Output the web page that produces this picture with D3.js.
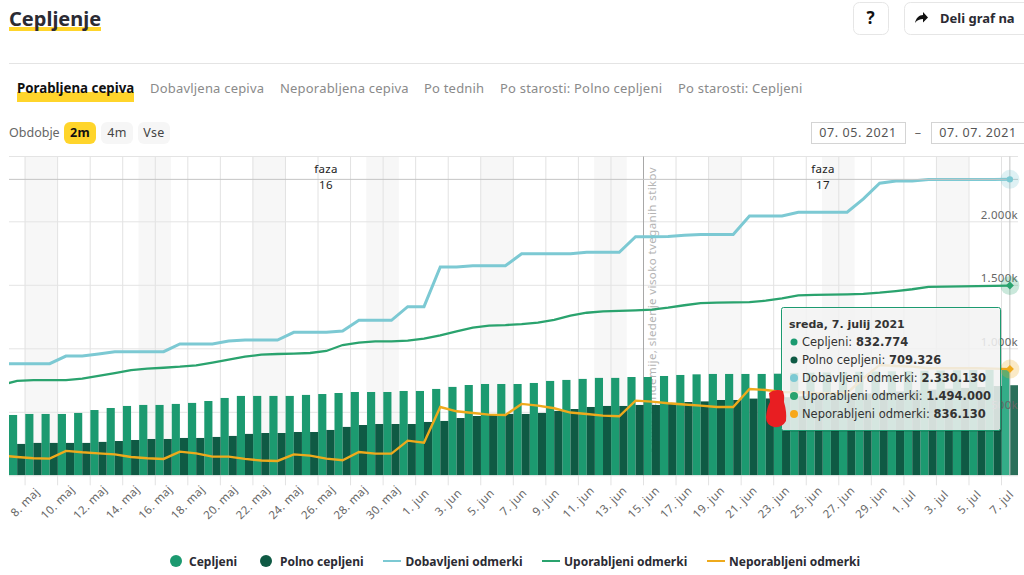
<!DOCTYPE html>
<html>
<head>
<meta charset="utf-8">
<style>
  html, body { margin: 0; padding: 0; background: #fff; overflow: hidden; }
  text { font-family: "Noto Sans", sans-serif; }
  .tip text { font-family: "DejaVu Sans", sans-serif; }
</style>
<script src="https://cdn.jsdelivr.net/npm/d3@7"></script>
</head>
<body>
<div id="chart"></div>
<script>
// the first entry (6. maj) lies left of the plot, only the lines come in from it
var days = ["6. maj", "7. maj", "8. maj", "9. maj", "10. maj", "11. maj", "12. maj", "13. maj", "14. maj", "15. maj",
  "16. maj", "17. maj", "18. maj", "19. maj", "20. maj", "21. maj", "22. maj", "23. maj", "24. maj", "25. maj",
  "26. maj", "27. maj", "28. maj", "29. maj", "30. maj", "31. maj", "1. jun", "2. jun", "3. jun", "4. jun",
  "5. jun", "6. jun", "7. jun", "8. jun", "9. jun", "10. jun", "11. jun", "12. jun", "13. jun", "14. jun",
  "15. jun", "16. jun", "17. jun", "18. jun", "19. jun", "20. jun", "21. jun", "22. jun", "23. jun", "24. jun",
  "25. jun", "26. jun", "27. jun", "28. jun", "29. jun", "30. jun", "1. jul", "2. jul", "3. jul", "4. jul",
  "5. jul", "6. jul", "7. jul"];

var tickDays = ["8. maj", "10. maj", "12. maj", "14. maj", "16. maj", "18. maj", "20. maj", "22. maj", "24. maj",
  "26. maj", "28. maj", "30. maj", "1. jun", "3. jun", "5. jun", "7. jun", "9. jun", "11. jun", "13. jun", "15. jun",
  "17. jun", "19. jun", "21. jun", "23. jun", "25. jun", "27. jun", "29. jun", "1. jul", "3. jul", "5. jul", "7. jul"];

var weekendDays = ["8. maj", "15. maj", "22. maj", "29. maj", "5. jun", "12. jun", "19. jun", "26. jun", "3. jul"];

// thousands
var cepljeni = [0, 475, 483, 483, 483, 491, 514, 530, 546, 554, 554, 562, 570, 585, 609, 625, 625, 625, 625, 633, 640,
  648, 656, 656, 656, 664, 664, 680, 696, 711, 719, 719, 719, 727, 743, 751, 759, 767, 767, 774, 774, 782, 790,
  795, 798, 798, 798, 798, 800, 806, 808, 810, 812, 815, 817, 819, 821, 823, 825, 827, 829, 831, 832.774];
var polno = [0, 247, 255, 255, 255, 255, 263, 270, 278, 286, 286, 294, 294, 302, 310, 326, 333, 333, 341, 341, 357,
  381, 396, 404, 404, 404, 420, 428, 451, 467, 475, 483, 483, 491, 507, 522, 538, 546, 546, 554, 554, 570, 577,
  582, 593, 593, 604, 605, 615, 622, 630, 636, 640, 645, 652, 660, 668, 675, 682, 688, 695, 703, 709.326];
var dobavljeni = [879, 879, 879, 879, 939, 939, 955, 973, 973, 973, 973, 1034, 1034, 1034, 1058, 1065, 1065, 1065, 1126,
  1126, 1126, 1136, 1220, 1220, 1220, 1328, 1328, 1640, 1640, 1650, 1650, 1650, 1745, 1745, 1745, 1745, 1756, 1756, 1756,
  1879, 1879, 1881, 1890, 1897, 1897, 1897, 2042, 2042, 2042, 2071, 2071, 2071, 2071, 2176, 2300, 2318, 2318, 2330, 2330,
  2330, 2330, 2330, 2330.13];
var uporabljeni = [710, 743, 750, 750, 750, 761, 782, 805, 829, 840, 847, 855, 866, 887, 910, 934, 950, 955, 958, 963, 979,
  1026, 1044, 1055, 1055, 1060, 1076, 1102, 1134, 1162, 1178, 1183, 1191, 1202, 1223, 1257, 1280, 1291, 1294, 1299, 1304,
  1320, 1339, 1356, 1359, 1362, 1364, 1375, 1393, 1417, 1420, 1422, 1424, 1428, 1438, 1451, 1465, 1483, 1486, 1488, 1490,
  1492, 1494];
var neporabljeni = [155, 144, 134, 131, 192, 181, 173, 165, 144, 134, 129, 186, 173, 147, 147, 129, 116, 113, 165, 155, 131,
  118, 184, 171, 171, 273, 257, 538, 504, 491, 478, 475, 562, 549, 528, 494, 483, 470, 465, 588, 580, 567, 557, 549, 538,
  538, 680, 672, 656, 654, 648, 646, 648, 764, 869, 861, 856, 843, 843, 843, 843, 840, 836.13];

var yTicks = [0, 500, 1000, 1500, 2000];
var yTickLabels = ["", "500k", "1.000k", "1.500k", "2.000k"];

var tabs = ["Porabljena cepiva", "Dobavljena cepiva", "Neporabljena cepiva", "Po tednih", "Po starosti: Polno cepljeni", "Po starosti: Cepljeni"];
var tabX = [17, 150, 280, 424, 500, 678];
var periods = ["2m", "4m", "Vse"];
var tipRows = ["Cepljeni: ", "Polno cepljeni: ", "Dobavljeni odmerki: ", "Uporabljeni odmerki: ", "Neporabljeni odmerki: "];
var tipValues = ["832.774", "709.326", "2.330.130", "1.494.000", "836.130"];

var colCepljeni = "#1c9a70", colPolno = "#0f5a44", colDobavljeni = "#7cc9d3", colUporabljeni = "#2aa36e", colNeporabljeni = "#eeaa1c";
var yellow = "#ffd52b", dark = "#2b2b33";

var svg = d3.select("#chart").append("svg").attr("width", 1024).attr("height", 575);

// header
svg.append("rect").attr("x", 9).attr("y", 27).attr("width", 92).attr("height", 4).attr("fill", yellow);
svg.append("text").attr("x", 9).attr("y", 26).attr("font-size", 20).attr("font-weight", 700).attr("fill", dark).text("Cepljenje");
svg.append("line").attr("x1", 9).attr("x2", 1024).attr("y1", 63.5).attr("y2", 63.5).attr("stroke", "#e4e4e4");

function button(x, y, w, h, fill, stroke) {
  svg.append("rect").attr("x", x + .5).attr("y", y + .5).attr("width", w).attr("height", h).attr("rx", 6)
    .attr("fill", fill).attr("stroke", stroke);
}
button(853, 2, 35, 32, "#fff", "#e6e6e6");
button(904, 2, 130, 32, "#fff", "#e6e6e6");
svg.append("text").attr("x", 870.5).attr("y", 24).attr("text-anchor", "middle").attr("font-size", 17).attr("font-weight", 700).attr("fill", "#111").text("?");
svg.append("path").attr("d", "M915 23 C916 18 919 15 923 15 L923 12 L928 17.5 L923 22.5 L923 19 C920 19 917 20 915 23 Z").attr("fill", "#111");
svg.append("text").attr("x", 940).attr("y", 23).attr("font-size", 13).attr("font-weight", 700).attr("fill", dark).text("Deli graf na");

// tabs
svg.append("rect").attr("x", 17).attr("y", 92).attr("width", 117).attr("height", 10).attr("fill", yellow);
svg.selectAll(".tab").data(tabs).join("text")
  .attr("class", "tab")
  .attr("x", (d, i) => tabX[i])
  .attr("y", 93)
  .attr("font-size", (d, i) => i == 0 ? 13.3 : 13)
  .attr("letter-spacing", (d, i) => i == 0 ? 0 : .2)
  .attr("font-weight", (d, i) => i == 0 ? 700 : 400)
  .attr("fill", (d, i) => i == 0 ? "#111" : "#8a8a8a")
  .text(d => d);

// period buttons and dates
svg.append("text").attr("x", 9).attr("y", 137).attr("font-size", 12.5).attr("fill", "#666").text("Obdobje");
periods.forEach(function (p, i) {
  var bx = [64, 101, 138][i];
  svg.append("rect").attr("x", bx).attr("y", 122).attr("width", 32).attr("height", 22).attr("rx", 6)
    .attr("fill", i == 0 ? yellow : "#f6f6f6");
  svg.append("text").attr("x", bx + 16).attr("y", 137).attr("text-anchor", "middle").attr("font-size", 12.5)
    .attr("font-weight", i == 0 ? 700 : 400).attr("fill", i == 0 ? "#111" : "#444").attr("letter-spacing", .4).text(p);
});
[["07. 05. 2021", 811], ["07. 07. 2021", 931]].forEach(function (d) {
  svg.append("rect").attr("x", d[1] + .5).attr("y", 122.5).attr("width", 94).attr("height", 21).attr("fill", "#fff").attr("stroke", "#d4d4d4");
  svg.append("text").attr("x", d[1] + 47).attr("y", 137).attr("text-anchor", "middle").attr("font-size", 12.5)
    .attr("letter-spacing", .6).attr("fill", "#555").text(d[0]);
});
svg.append("text").attr("x", 918).attr("y", 137).attr("text-anchor", "middle").attr("font-size", 12.5).attr("fill", "#666").text("–");

// chart
var plotLeft = 9, plotRight = 1018, plotTop = 156.5, plotBottom = 475.3, step = 16.27;

var x = d3.scaleBand().domain(days).range([plotLeft - step, plotRight]);
var xBar = d3.scaleBand().domain(["cepljeni", "polno"]).range([0, x.bandwidth()]);
var xTick = d3.scalePoint().domain(days).range([plotLeft - step - .7, plotRight - step - .7]);
var y = d3.scaleLinear().domain([0, 2000]).range([plotBottom, 221.3]);

var plot = svg.append("g");
svg.append("clipPath").attr("id", "plot-clip").append("rect")
  .attr("x", plotLeft).attr("y", plotTop).attr("width", plotRight - plotLeft).attr("height", plotBottom - plotTop);

// weekends
plot.selectAll(".weekend").data(weekendDays).join("rect")
  .attr("class", "weekend")
  .attr("x", d => xTick(d))
  .attr("y", plotTop)
  .attr("width", step * 2)
  .attr("height", plotBottom - plotTop)
  .attr("fill", "#f7f7f7");

// vertical grid and x labels
var xAxis = plot.append("g")
  .attr("transform", "translate(0," + plotBottom + ")")
  .call(d3.axisBottom(xTick).tickValues(tickDays).tickSize(10));
xAxis.select(".domain").remove();
xAxis.selectAll("line").attr("stroke", "#e2e2e2").clone().attr("y2", plotTop - plotBottom);
xAxis.selectAll("text")
  .attr("y", 0).attr("dy", ".35em")
  .attr("transform", "translate(0,27) rotate(-45)")
  .attr("text-anchor", "middle")
  .attr("font-size", 11.5)
  .attr("letter-spacing", .4)
  .attr("font-family", "Noto Sans")
  .attr("fill", "#666");

// horizontal grid
var yAxis = plot.append("g")
  .attr("transform", "translate(" + plotRight + ",0)")
  .call(d3.axisLeft(y).tickValues(yTicks).tickSize(plotRight - plotLeft).tickFormat(""));
yAxis.select(".domain").remove();
yAxis.selectAll("line").attr("stroke", "#e4e4e4");
plot.append("line").attr("x1", plotLeft).attr("x2", plotRight).attr("y1", plotTop).attr("y2", plotTop).attr("stroke", "#e4e4e4");

// plot line sits under the bars
plot.append("line").attr("x1", 643.5).attr("x2", 643.5).attr("y1", plotTop).attr("y2", plotBottom).attr("stroke", "#a8a8a8");
plot.append("g").attr("clip-path", "url(#plot-clip)").append("text")
  .attr("transform", "translate(656,167) rotate(-90)")
  .attr("text-anchor", "end")
  .attr("font-size", 11.5)
  .attr("letter-spacing", .4)
  .attr("fill", "#b4b4b4")
  .text("Konec pandemije, sledenje visoko tveganih stikov");

// bars
var marks = svg.append("g").attr("clip-path", "url(#plot-clip)");
var lastDay = days[days.length - 1];
marks.selectAll(".bar-c").data(days).join("rect")
  .attr("class", "bar-c")
  .attr("x", d => x(d) + xBar("cepljeni"))
  .attr("y", (d, i) => y(cepljeni[i]))
  .attr("width", xBar.bandwidth())
  .attr("height", (d, i) => y(0) - y(cepljeni[i]))
  .attr("fill", d => d == lastDay ? "#34ad88" : colCepljeni);
marks.selectAll(".bar-p").data(days).join("rect")
  .attr("class", "bar-p")
  .attr("x", d => x(d) + xBar("polno"))
  .attr("y", (d, i) => y(polno[i]))
  .attr("width", xBar.bandwidth())
  .attr("height", (d, i) => y(0) - y(polno[i]))
  .attr("fill", d => d == lastDay ? "#2a6f5a" : colPolno);

// lines
var line = d3.line()
  .x((d, i) => x(days[i]) + x.bandwidth() / 2)
  .y(d => y(d));
marks.append("path").datum(dobavljeni).attr("d", line).attr("fill", "none").attr("stroke", colDobavljeni).attr("stroke-width", 3);
marks.append("path").datum(uporabljeni).attr("d", line).attr("fill", "none").attr("stroke", colUporabljeni).attr("stroke-width", 2.3);
marks.append("path").datum(neporabljeni).attr("d", line).attr("fill", "none").attr("stroke", colNeporabljeni).attr("stroke-width", 2.4);

// crosshair on the hovered day
var lastX = x(lastDay) + x.bandwidth() / 2;
svg.append("line").attr("x1", lastX).attr("x2", lastX).attr("y1", plotTop).attr("y2", plotBottom).attr("stroke", "#c4c4c4");
svg.append("line").attr("x1", plotLeft).attr("x2", plotRight).attr("y1", y(2330.13)).attr("y2", y(2330.13)).attr("stroke", "#c4c4c4");

// phase labels
[["16", 326], ["17", 823]].forEach(function (f) {
  svg.append("text").attr("x", f[1]).attr("y", 173).attr("text-anchor", "middle").attr("font-size", 11.5).attr("letter-spacing", .3).attr("fill", "#222").text("faza");
  svg.append("text").attr("x", f[1]).attr("y", 189).attr("text-anchor", "middle").attr("font-size", 11.5).attr("letter-spacing", .3).attr("fill", "#222").text(f[0]);
});

// y labels
svg.selectAll(".ylab").data(yTicks).join("text")
  .attr("class", "ylab")
  .attr("x", 1018)
  .attr("y", d => y(d) - 2.5)
  .attr("text-anchor", "end")
  .attr("font-size", 11.5)
  .attr("letter-spacing", .3)
  .attr("fill", "#666")
  .text((d, i) => yTickLabels[i]);

// hover markers
var hover = svg.append("g");
[[dobavljeni, colDobavljeni, d3.symbolCircle, 0], [uporabljeni, colUporabljeni, d3.symbolSquare, 45], [neporabljeni, colNeporabljeni, d3.symbolSquare, 45]].forEach(function (s) {
  var v = s[0][s[0].length - 1];
  hover.append("circle").attr("cx", lastX).attr("cy", y(v)).attr("r", 9.5).attr("fill", s[1]).attr("opacity", .25);
  hover.append("path").attr("d", d3.symbol().type(s[2]).size(32))
    .attr("transform", "translate(" + lastX + "," + y(v) + ") rotate(" + s[3] + ")")
    .attr("fill", s[1]);
});

// tooltip
var tip = svg.append("g").attr("class", "tip");
tip.append("rect").attr("x", 782).attr("y", 308).attr("width", 219).attr("height", 123).attr("rx", 2)
  .attr("fill", "#000").attr("opacity", .12).attr("transform", "translate(1,1)");
tip.append("rect").attr("x", 781.5).attr("y", 307.5).attr("width", 219).attr("height", 123).attr("rx", 2)
  .attr("fill", "#f7f7f7").attr("fill-opacity", .85).attr("stroke", colCepljeni);
tip.append("text").attr("x", 789).attr("y", 327.5).attr("font-size", 11).attr("font-weight", 700).attr("fill", "#333").text("sreda, 7. julij 2021");
var tipColors = [colCepljeni, colPolno, colDobavljeni, colUporabljeni, "#f7a81b"];
tipRows.forEach(function (r, i) {
  var ry = 342 + i * 18;
  tip.append("circle").attr("cx", 794).attr("cy", ry).attr("r", i < 2 ? 3.5 : 4).attr("fill", tipColors[i]);
  var t = tip.append("text").attr("x", 802).attr("y", ry + 4).attr("font-size", 11.5).attr("fill", "#333");
  t.append("tspan").text(r);
  t.append("tspan").attr("font-weight", 700).text(tipValues[i]);
});

// the red smear over the chart
svg.append("path")
  .attr("d", "M769 393 Q775 388 783 391 Q785 396 784 402 Q787 412 786 421 Q782 428 774 427 Q766 425 766 417 Q767 407 770 402 Z")
  .attr("fill", "#e81e22");

// legend
var legendItems = [
  { label: "Cepljeni", x: 176, textX: 189, color: colCepljeni, dot: true },
  { label: "Polno cepljeni", x: 266, textX: 280, color: colPolno, dot: true },
  { label: "Dobavljeni odmerki", x: 383, textX: 405.5, color: colDobavljeni, dot: false },
  { label: "Uporabljeni odmerki", x: 542, textX: 564, color: colUporabljeni, dot: false },
  { label: "Neporabljeni odmerki", x: 707, textX: 729, color: colNeporabljeni, dot: false }
];
legendItems.forEach(function (l) {
  if (l.dot) svg.append("circle").attr("cx", l.x).attr("cy", 561).attr("r", 6).attr("fill", l.color);
  else svg.append("line").attr("x1", l.x).attr("x2", l.x + 18).attr("y1", 561).attr("y2", 561).attr("stroke", l.color).attr("stroke-width", 2);
  svg.append("text").attr("x", l.textX).attr("y", 566).attr("font-size", 12).attr("font-weight", 700).attr("fill", dark).text(l.label);
});
</script>
</body>
</html>
